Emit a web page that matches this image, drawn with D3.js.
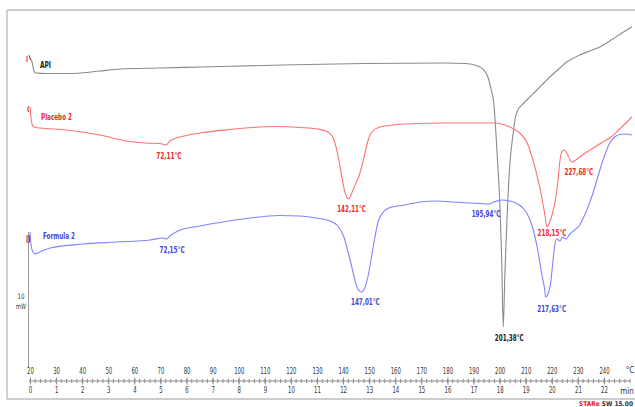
<!DOCTYPE html>
<html>
<head>
<meta charset="utf-8">
<script src="https://cdn.jsdelivr.net/npm/d3@7"></script>
<style>
  html, body { margin: 0; padding: 0; background: #fff; }
  svg { display: block; }
  text { font-family: "Liberation Sans Narrow", "DejaVu Sans Condensed", "Liberation Sans", sans-serif; }
</style>
</head>
<body>
<svg id="chart" width="635" height="407"></svg>
<script>
// DSC thermograms: heat flow (mW, stacked) against temperature (°C)
const apiCurve = [
  [20.0, 34.2], [20.8, 33.8], [21.5, 32.9], [22.3, 32.7], [25.7, 32.65], [34.2, 32.65],
  [39.5, 32.7], [46.8, 32.9], [54.9, 33.1], [69.8, 33.2], [85.9, 33.3], [116.9, 33.5],
  [148.0, 33.65], [179.0, 33.7], [187.0, 33.65], [191.6, 33.4], [193.9, 33.0], [195.5, 32.3],
  [196.6, 31.2], [197.8, 29.6], [198.5, 27.0], [199.3, 23.5], [200.1, 19.5], [200.8, 14.0],
  [201.38, 7.3], [202.0, 12.5], [202.8, 18.0], [203.9, 23.5], [205.1, 26.5], [206.0, 28.2],
  [207.0, 29.0], [208.5, 29.5], [210.4, 30.0], [214.3, 31.0], [219.2, 32.3], [223.1, 33.2],
  [225.7, 33.8], [230.7, 34.5], [234.6, 34.9], [238.4, 35.3], [243.4, 36.1], [246.9, 36.7],
  [250.7, 37.3]
];

const placeboCurve = [
  [20.0, 29.3], [20.4, 28.2], [21.1, 27.4], [22.3, 27.25], [34.2, 27.0], [46.8, 26.5],
  [57.1, 25.9], [64.1, 25.7], [69.8, 25.65], [72.11, 25.5], [73.6, 25.9], [77.5, 26.3],
  [85.1, 26.7], [96.6, 27.05], [113.9, 27.35], [123.4, 27.25], [130.3, 27.1], [134.2, 26.8],
  [136.5, 26.0], [138.0, 24.5], [139.6, 22.2], [140.7, 20.8], [142.11, 20.1], [143.0, 20.5],
  [143.8, 21.0], [144.9, 21.7], [146.1, 22.4], [147.2, 23.4], [148.4, 24.7], [149.5, 25.9],
  [151.0, 26.8], [154.1, 27.3], [163.7, 27.6], [179.0, 27.7], [197.8, 27.7], [203.9, 27.3],
  [207.7, 26.7], [210.4, 25.8], [212.3, 24.4], [214.3, 22.5], [216.2, 20.2], [217.4, 18.4],
  [218.15, 17.3], [219.2, 17.8], [220.4, 18.8], [221.5, 20.2], [222.3, 21.8], [223.1, 23.9],
  [223.8, 24.8], [224.6, 25.0], [225.7, 24.7], [227.68, 23.8], [229.2, 24.0], [230.7, 24.3],
  [233.4, 24.8], [236.5, 25.3], [239.5, 25.8], [242.2, 26.2], [246.0, 27.1], [250.7, 28.3]
];

const formulaCurve = [
  [20.0, 16.8], [20.4, 15.5], [21.1, 14.8], [21.9, 14.6], [23.8, 14.8], [27.7, 15.2],
  [40.3, 15.6], [53.3, 15.8], [66.0, 16.0], [71.0, 16.2], [72.15, 16.1], [73.6, 16.4],
  [76.7, 16.9], [85.1, 17.4], [93.9, 17.8], [104.3, 18.2], [115.4, 18.45], [123.4, 18.4],
  [129.6, 18.2], [134.9, 17.9], [138.0, 17.4], [140.3, 16.3], [142.2, 14.5], [143.8, 12.8],
  [145.3, 11.3], [147.01, 10.8], [148.3, 11.2], [149.5, 12.3], [150.7, 14.0], [151.8, 15.7],
  [153.4, 17.8], [154.9, 18.6], [157.5, 19.2], [163.7, 19.5], [169.4, 19.8], [175.9, 19.9],
  [181.7, 19.8], [188.6, 19.7], [192.4, 19.65], [195.94, 19.6], [197.8, 19.8], [200.8, 20.0],
  [203.9, 19.9], [206.2, 19.7], [208.5, 19.3], [210.4, 18.7], [212.7, 17.2], [214.6, 15.0],
  [216.2, 12.5], [217.3, 11.0], [217.63, 10.3], [218.8, 10.8], [219.6, 11.8], [220.4, 13.8],
  [221.2, 15.6], [221.9, 16.1], [223.1, 15.9], [224.2, 16.3], [225.4, 16.1], [226.9, 16.6],
  [228.8, 17.0], [230.7, 17.5], [232.6, 18.5], [234.6, 19.8], [236.5, 21.3], [238.4, 23.0],
  [240.3, 24.5], [242.2, 25.7], [244.1, 26.3], [246.0, 26.55], [248.3, 26.6], [250.7, 26.5]
];

const seriesNames = ["API", "Placebo 2", "Formula 2"];

// Peak temperatures (°C) annotated on each curve
const apiPeaks = [201.38];
const placeboPeaks = [72.11, 142.11, 218.15, 227.68];
const formulaPeaks = [72.15, 147.01, 195.94, 217.63];

const tempTicks = [20, 30, 40, 50, 60, 70, 80, 90, 100, 110, 120, 130, 140, 150, 160, 170, 180, 190, 200, 210, 220, 230, 240];
const minuteTicks = [0, 1, 2, 3, 4, 5, 6, 7, 8, 9, 10, 11, 12, 13, 14, 15, 16, 17, 18, 19, 20, 21, 22];
const scaleBarLabel = ["10", "mW"];

// ---- drawing ----
const svg = d3.select("#chart");
const W = 635, H = 407;

const x = d3.scaleLinear().domain([20, 240]).range([30, 604]);
const y = d3.scaleLinear().domain([0, 40]).range([400, 0]);
const tMin = d3.scaleLinear().domain([0, 22]).range([x(20), x(240)]);

const styles = {
  api:     { line: "#8a8a8a", label: "#1a1a1a", weight: "bold" },
  placebo: { line: "#ff7272", label: "#ee2a2a", weight: "600" },
  formula: { line: "#8282ff", label: "#4545d8", weight: "600" }
};

// frame
const frame = svg.append("g").attr("fill", "none").attr("stroke", "#bdbdbd").attr("stroke-width", 1.4);
frame.append("line").attr("x1", 7).attr("x2", W).attr("y1", 10).attr("y2", 10);
frame.append("line").attr("x1", 7).attr("x2", 7).attr("y1", 10).attr("y2", 399);
frame.append("line").attr("x1", 7).attr("x2", W).attr("y1", 399).attr("y2", 399);

// scale bar on the left
svg.append("line")
  .attr("x1", x(20) - 1.5).attr("x2", x(20) - 1.5)
  .attr("y1", y(16.8)).attr("y2", y(3.2))
  .attr("stroke", "#9a9a9a").attr("stroke-width", 1);
svg.append("g").attr("font-size", 7.5).attr("fill", "#333").attr("text-anchor", "middle")
  .selectAll("text").data(scaleBarLabel).join("text")
  .attr("x", 21).attr("y", (d, i) => y(10.1) + i * 10)
  .attr("textLength", (d, i) => i ? 10 : 7).attr("lengthAdjust", "spacingAndGlyphs")
  .text(d => d);

// curves
const line = d3.line().x(d => x(d[0])).y(d => y(d[1])).curve(d3.curveMonotoneX);
const curves = [
  { key: "api", data: apiCurve },
  { key: "placebo", data: placeboCurve },
  { key: "formula", data: formulaCurve }
];
svg.append("g").attr("fill", "none").attr("stroke-width", 1.1)
  .selectAll("path").data(curves).join("path")
  .attr("stroke", d => styles[d.key].line)
  .attr("d", d => line(d.data));

// curve start markers
const s0 = apiCurve[0], s1 = placeboCurve[0], s2 = formulaCurve[0];
const mk = svg.append("g").attr("fill", "none").attr("stroke", "#e02020").attr("stroke-width", 1);
mk.append("path").attr("d", `M${x(s0[0]) - 3},${y(s0[1]) - 2} l0,6 M${x(s0[0]) - 1},${y(s0[1]) - 3} l1.5,5`);
mk.append("path").attr("d", `M${x(s1[0]) - 1.5},${y(s1[1]) - 1} q-1.5,3 0,6`);
mk.append("rect").attr("x", x(s2[0]) - 3).attr("y", y(s2[1]) + 4).attr("width", 2.5).attr("height", 6);

// series names next to curve starts
const nameOffsets = [[10, 10], [11, 13], [13, 7]];
const nameWidths = [11, 31, 32];
svg.append("g").attr("font-size", 9)
  .selectAll("text").data(seriesNames).join("text")
  .attr("x", (d, i) => x(curves[i].data[0][0]) + nameOffsets[i][0])
  .attr("y", (d, i) => y(curves[i].data[0][1]) + nameOffsets[i][1])
  .attr("fill", (d, i) => styles[curves[i].key].label)
  .attr("font-weight", (d, i) => styles[curves[i].key].weight)
  .attr("textLength", (d, i) => nameWidths[i]).attr("lengthAdjust", "spacingAndGlyphs")
  .text(d => d);

// peak annotations, placed from the curve value at each peak temperature
const fmt = t => t.toFixed(2).replace(".", ",") + "°C";
const valueAt = (data, t) => data.find(p => p[0] === t)[1];
const labelShift = {
  "api-201.38": [6, 14],
  "placebo-72.11": [3, 14], "placebo-142.11": [3, 13], "placebo-218.15": [5, 9], "placebo-227.68": [7, 13],
  "formula-72.15": [6, 14], "formula-147.01": [4, 13], "formula-195.94": [-3, 13], "formula-217.63": [6, 15]
};
const peakSets = [
  { key: "api", data: apiCurve, peaks: apiPeaks },
  { key: "placebo", data: placeboCurve, peaks: placeboPeaks },
  { key: "formula", data: formulaCurve, peaks: formulaPeaks }
];
const ann = svg.append("g").attr("font-size", 9).attr("text-anchor", "middle");
peakSets.forEach(s => {
  s.peaks.forEach(t => {
    const off = labelShift[s.key + "-" + t];
    const txt = fmt(t);
    ann.append("text")
      .attr("x", x(t) + off[0])
      .attr("y", y(valueAt(s.data, t)) + off[1])
      .attr("fill", styles[s.key].label)
      .attr("font-weight", styles[s.key].weight)
      .attr("textLength", txt.length * 3.6).attr("lengthAdjust", "spacingAndGlyphs")
      .text(txt);
  });
});

// time / temperature axis
const axisY = 381;
const axG = svg.append("g").attr("transform", `translate(0,${axisY})`);
axG.append("line").attr("x1", x(20)).attr("x2", 630).attr("stroke", "#8c8c8c");
axG.selectAll("line.minor").data(d3.range(20, 251, 2)).join("line")
  .attr("class", "minor")
  .attr("x1", d => x(d)).attr("x2", d => x(d)).attr("y1", -2).attr("y2", 2)
  .attr("stroke", "#8c8c8c");

const topAxis = d3.axisTop(x).tickValues(tempTicks).tickSize(3.5).tickPadding(4).tickFormat(d3.format("d"));
const gTop = axG.append("g").call(topAxis);
const botAxis = d3.axisBottom(tMin).tickValues(minuteTicks).tickSize(3.5).tickPadding(3).tickFormat(d3.format("d"));
const gBot = axG.append("g").call(botAxis);
[gTop, gBot].forEach(g => {
  g.select(".domain").remove();
  g.selectAll(".tick line").attr("stroke", "#8c8c8c");
  g.selectAll(".tick text").attr("fill", "#333").attr("font-size", 8)
    .attr("font-family", "\"Liberation Sans Narrow\", \"DejaVu Sans Condensed\", sans-serif")
    .attr("textLength", function () { return this.textContent.length * 3.4; })
    .attr("lengthAdjust", "spacingAndGlyphs");
});
axG.append("text").attr("x", 630).attr("y", -8).attr("text-anchor", "middle")
  .attr("font-size", 8).attr("fill", "#333").text("°C");
axG.append("text").attr("x", 627).attr("y", 12.5).attr("text-anchor", "middle")
  .attr("font-size", 8).attr("fill", "#333").text("min");

// software stamp in the bottom corner
const stamp = svg.append("text").attr("x", 579).attr("y", 406).attr("font-size", 6.5).attr("font-weight", "bold")
  .attr("textLength", 54).attr("lengthAdjust", "spacingAndGlyphs");
stamp.append("tspan").attr("fill", "#e02020").text("STARe");
stamp.append("tspan").attr("fill", "#333").text(" SW 15.00");
</script>
</body>
</html>
